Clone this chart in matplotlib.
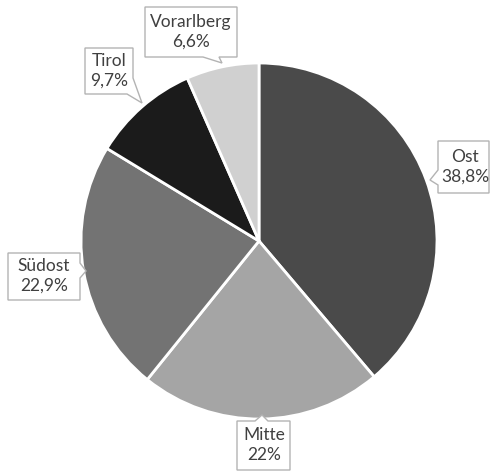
import matplotlib.pyplot as plt
from matplotlib.patches import Polygon

regions = ["Ost", "Mitte", "Südost", "Tirol", "Vorarlberg"]
labels = ["38,8%", "22%", "22,9%", "9,7%", "6,6%"]
shares = [38.8, 22.0, 22.9, 9.7, 6.6]
colors = ["#4a4a4a", "#a5a5a5", "#737373", "#1b1b1b", "#d0d0d0"]

W, H = 490, 474

# callout outlines in pixel coords (top-left origin), going round the box
callouts = [
    [(438, 141), (489, 141), (489, 193), (438, 193), (438, 185), (430, 180), (438, 170)],
    [(237, 421), (255, 421), (262, 415), (268, 421), (290, 421), (290, 470), (237, 470)],
    [(8, 253), (80, 253), (80, 263), (86, 271), (80, 278), (80, 300), (8, 300)],
    [(85, 48), (133, 48), (133, 78), (142, 103), (127, 94), (85, 94)],
    [(145, 7), (237, 7), (237, 57), (219, 57), (222, 63), (203, 57), (145, 57)],
]
text_pos = [(465, 167), (264, 445), (44, 276), (109, 71), (191, 32)]

plt.rcParams["font.family"] = ["Lato", "DejaVu Sans"]
fig = plt.figure(figsize=(W / 100, H / 100), dpi=100)
ax = fig.add_axes([0, 0, 1, 1])

ax.pie(shares, colors=colors, startangle=90, counterclock=False,
       center=(259, H - 241), radius=178, frame=True,
       wedgeprops=dict(edgecolor="white", linewidth=2))
ax.set_xlim(0, W)
ax.set_ylim(0, H)
ax.set_aspect("equal")
ax.axis("off")

for name, lab, pts, (tx, ty) in zip(regions, labels, callouts, text_pos):
    ax.add_patch(Polygon([(x, H - y) for x, y in pts], closed=True,
                         fc="white", ec="#b3b3b3", lw=1, zorder=3))
    ax.text(tx, H - ty, f"{name}\n{lab}", ha="center", va="center",
            fontsize=12.5, color="#404040", linespacing=1.3, zorder=4)

fig.savefig("out.png", dpi=100)
